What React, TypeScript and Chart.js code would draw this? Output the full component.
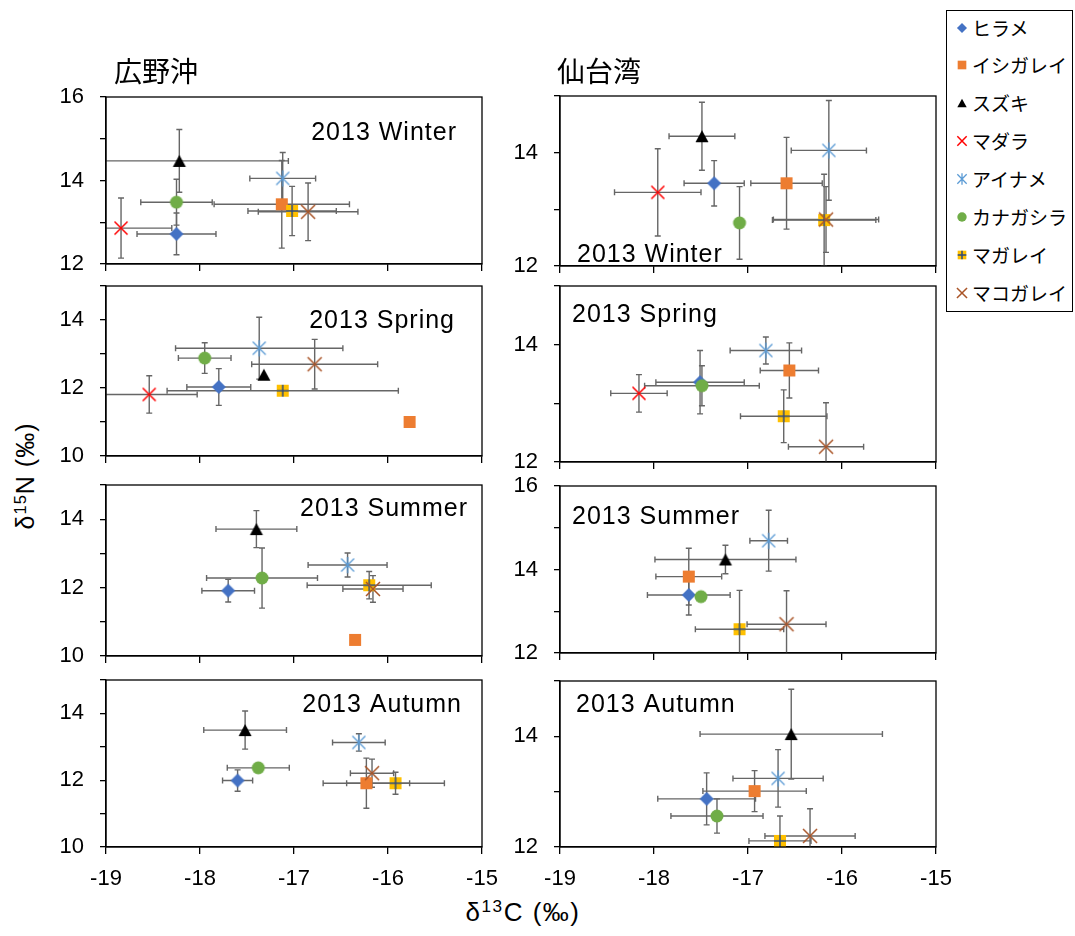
import React, { useEffect, useRef } from 'react';
import { Chart, registerables } from 'chart.js';

Chart.register(...registerables);

// ---------- data ----------
const SPECIES = ['ヒラメ', 'イシガレイ', 'スズキ', 'マダラ', 'アイナメ', 'カナガシラ', 'マガレイ', 'マコガレイ'];
const SITE_TITLES = ['広野沖', '仙台湾'];
const SEASON_LABELS = ['2013 Winter', '2013 Spring', '2013 Summer', '2013 Autumn'];
const X_MIN = -19;
const X_MAX = -15;

// 広野沖 2013 Winter (species order as SPECIES)
const hironoWinterX = [-18.25, -17.13, -18.22, -18.84, -17.12, -18.25, -17.02, -16.85];
const hironoWinterY = [12.72, 13.43, 14.47, 12.86, 14.05, 13.48, 13.27, 13.25];
const hironoWinterXErr = [0.42, 0.72, 1.16, 0.54, 0.35, 0.38, 0.47, 0.53];
const hironoWinterYErr = [0.5, 1.05, 0.75, 0.72, 0.62, 0.55, 0.59, 0.69];

// 仙台湾 2013 Winter
const sendaiWinterX = [-17.36, -16.59, -17.49, -17.96, -16.14, -17.09, -16.19, -16.17];
const sendaiWinterY = [13.46, 13.46, 14.29, 13.3, 14.04, 12.76, 12.81, 12.82];
const sendaiWinterXErr = [0.32, 0.38, 0.35, 0.46, 0.4, 0, 0.55, 0.56];
const sendaiWinterYErr = [0.4, 0.81, 0.6, 0.77, 0.88, 0.64, 0.81, 0.58];

// 広野沖 2013 Spring
const hironoSpringX = [-17.8, -15.77, -17.32, -18.54, -17.37, -17.95, -17.12, -16.78];
const hironoSpringY = [12.03, 11.0, 12.39, 11.81, 13.17, 12.88, 11.92, 12.7];
const hironoSpringXErr = [0.34, 0, 0, 0.51, 0.89, 0.28, 1.23, 0.67];
const hironoSpringYErr = [0.54, 0, 0, 0.55, 0.91, 0.45, 0, 0.73];

// 仙台湾 2013 Spring
const sendaiSpringX = [-17.51, -16.56, null, -18.16, -16.81, -17.49, -16.62, -16.17];
const sendaiSpringY = [13.36, 13.56, null, 13.17, 13.9, 13.3, 12.78, 12.26];
const sendaiSpringXErr = [0.47, 0.31, 0, 0.3, 0.38, 0.61, 0.46, 0.4];
const sendaiSpringYErr = [0.54, 0.47, 0, 0.32, 0.23, 0.34, 0.45, 0.75];

// 広野沖 2013 Summer
const hironoSummerX = [-17.7, -16.35, -17.4, null, -16.43, -17.34, -16.2, -16.16];
const hironoSummerY = [11.91, 10.47, 13.71, null, 12.66, 12.28, 12.07, 11.96];
const hironoSummerXErr = [0.28, 0, 0.43, 0, 0.42, 0.59, 0.66, 0.32];
const hironoSummerYErr = [0.33, 0, 0.54, 0, 0.35, 0.88, 0.4, 0.39];

// 仙台湾 2013 Summer
const sendaiSummerX = [-17.63, -17.63, -17.24, null, -16.78, -17.5, -17.09, -16.59];
const sendaiSummerY = [13.39, 13.83, 14.24, null, 14.69, 13.35, 12.57, 12.69];
const sendaiSummerXErr = [0.44, 0.35, 0.75, 0, 0.2, 0, 0.47, 0.42];
const sendaiSummerYErr = [0.48, 0.68, 0.34, 0, 0.73, 0, 0.93, 0.8];

// 広野沖 2013 Autumn
const hironoAutumnX = [-17.6, -16.23, -17.52, null, -16.31, -17.38, -15.92, -16.17];
const hironoAutumnY = [11.99, 11.91, 13.5, null, 13.13, 12.37, 11.91, 12.21];
const hironoAutumnXErr = [0.16, 0.46, 0.44, 0, 0.28, 0.33, 0.52, 0.23];
const hironoAutumnYErr = [0.32, 0.75, 0.57, 0, 0.26, 0, 0.33, 0.42];

// 仙台湾 2013 Autumn
const sendaiAutumnX = [-17.44, -16.93, -16.54, null, -16.68, -17.33, -16.66, -16.34];
const sendaiAutumnY = [12.87, 13.01, 14.04, null, 13.24, 12.56, 12.11, 12.2];
const sendaiAutumnXErr = [0.52, 0.55, 0.97, 0, 0.48, 0.49, 0.33, 0.48];
const sendaiAutumnYErr = [0.47, 0.37, 0.81, 0, 0.52, 0.31, 0.45, 0.49];

// ---------- styles ----------
const MARKER_COLORS = ['#4472C4', '#ED7D31', '#000000', '#FF0000', '#5B9BD5', '#70AD47', '#FFC000', '#AA5528'];
const PLUS_COLOR = '#2E4A7A';
const ERR_COLOR = '#666666';
const AXIS_COLOR = '#000000';
const FONT = '"Liberation Sans", Arial, sans-serif';
const CJK = '"Noto Sans CJK JP", "Noto Sans", sans-serif';

type PanelCfg = {
  col: number; season: number;
  x: (number | null)[]; y: (number | null)[]; xe: number[]; ye: number[];
  yMin: number; yMax: number; plotTop: number; plotBottom: number;
  labelAlign: 'left' | 'right'; labelDx: number; labelDy: number;
};

const PANELS: PanelCfg[] = [
  { col: 0, season: 0, x: hironoWinterX, y: hironoWinterY, xe: hironoWinterXErr, ye: hironoWinterYErr, yMin: 12, yMax: 16, plotTop: 97, plotBottom: 264, labelAlign: 'right', labelDx: 25, labelDy: 34 },
  { col: 1, season: 0, x: sendaiWinterX, y: sendaiWinterY, xe: sendaiWinterXErr, ye: sendaiWinterYErr, yMin: 12, yMax: 15, plotTop: 96, plotBottom: 266, labelAlign: 'left', labelDx: 17, labelDy: 157 },
  { col: 0, season: 1, x: hironoSpringX, y: hironoSpringY, xe: hironoSpringXErr, ye: hironoSpringYErr, yMin: 10, yMax: 15, plotTop: 286, plotBottom: 456, labelAlign: 'right', labelDx: 27, labelDy: 33 },
  { col: 1, season: 1, x: sendaiSpringX, y: sendaiSpringY, xe: sendaiSpringXErr, ye: sendaiSpringYErr, yMin: 12, yMax: 15, plotTop: 286, plotBottom: 462, labelAlign: 'left', labelDx: 12, labelDy: 27 },
  { col: 0, season: 2, x: hironoSummerX, y: hironoSummerY, xe: hironoSummerXErr, ye: hironoSummerYErr, yMin: 10, yMax: 15, plotTop: 485, plotBottom: 656, labelAlign: 'right', labelDx: 14, labelDy: 22 },
  { col: 1, season: 2, x: sendaiSummerX, y: sendaiSummerY, xe: sendaiSummerXErr, ye: sendaiSummerYErr, yMin: 12, yMax: 16, plotTop: 486, plotBottom: 653, labelAlign: 'left', labelDx: 12, labelDy: 29 },
  { col: 0, season: 3, x: hironoAutumnX, y: hironoAutumnY, xe: hironoAutumnXErr, ye: hironoAutumnYErr, yMin: 10, yMax: 15, plotTop: 680, plotBottom: 847, labelAlign: 'right', labelDx: 20, labelDy: 23 },
  { col: 1, season: 3, x: sendaiAutumnX, y: sendaiAutumnY, xe: sendaiAutumnXErr, ye: sendaiAutumnYErr, yMin: 12, yMax: 15, plotTop: 681, plotBottom: 847, labelAlign: 'left', labelDx: 16, labelDy: 22 },
];

const PLOT_LEFT = [106, 560];
const PLOT_W = 376;
const Y_AXIS_W = 56;
const PAD_TOP = 16;
const PAD_RIGHT = 20;

function drawMarker(ctx: CanvasRenderingContext2D, i: number, cx: number, cy: number, k: number) {
  ctx.save();
  const c = MARKER_COLORS[i];
  ctx.fillStyle = c;
  ctx.strokeStyle = c;
  ctx.beginPath();
  if (i === 0) {
    const r = 7 * k;
    ctx.moveTo(cx, cy - r); ctx.lineTo(cx + r, cy); ctx.lineTo(cx, cy + r); ctx.lineTo(cx - r, cy);
    ctx.closePath(); ctx.fill();
  } else if (i === 1) {
    const s = 12 * k;
    ctx.fillRect(cx - s / 2, cy - s / 2, s, s);
  } else if (i === 2) {
    const w = 13 * k, h = 12 * k;
    ctx.moveTo(cx, cy - h / 2); ctx.lineTo(cx + w / 2, cy + h / 2); ctx.lineTo(cx - w / 2, cy + h / 2);
    ctx.closePath(); ctx.fill();
  } else if (i === 3 || i === 7) {
    const r = (i === 3 ? 6.5 : 7) * k;
    ctx.lineWidth = 1.5;
    ctx.moveTo(cx - r, cy - r); ctx.lineTo(cx + r, cy + r);
    ctx.moveTo(cx + r, cy - r); ctx.lineTo(cx - r, cy + r);
    ctx.stroke();
  } else if (i === 4) {
    const r = 6.5 * k;
    ctx.lineWidth = 1.3;
    ctx.moveTo(cx - r, cy - r); ctx.lineTo(cx + r, cy + r);
    ctx.moveTo(cx + r, cy - r); ctx.lineTo(cx - r, cy + r);
    ctx.moveTo(cx, cy - r * 1.25); ctx.lineTo(cx, cy + r * 1.25);
    ctx.stroke();
  } else if (i === 5) {
    ctx.arc(cx, cy, 6.5 * k, 0, Math.PI * 2);
    ctx.fill();
  } else if (i === 6) {
    const s = 12 * k;
    ctx.fillRect(cx - s / 2, cy - s / 2, s, s);
    ctx.strokeStyle = PLUS_COLOR;
    ctx.lineWidth = 1.5;
    ctx.beginPath();
    ctx.moveTo(cx - s / 2, cy); ctx.lineTo(cx + s / 2, cy);
    ctx.moveTo(cx, cy - s / 2); ctx.lineTo(cx, cy + s / 2);
    ctx.stroke();
  }
  ctx.restore();
}

function makeMarkerCanvas(i: number): HTMLCanvasElement {
  const c = document.createElement('canvas');
  c.width = 20; c.height = 20;
  const ctx = c.getContext('2d')!;
  drawMarker(ctx, i, 10, 10, 1);
  return c;
}

function Panel({ cfg }: { cfg: PanelCfg }) {
  const ref = useRef<HTMLCanvasElement | null>(null);
  const isBottom = cfg.season === 3;
  const xH = isBottom ? 45 : 16;
  const plotH = cfg.plotBottom - cfg.plotTop;
  const W = Y_AXIS_W + PLOT_W + PAD_RIGHT;
  const H = PAD_TOP + plotH + xH;
  const left = PLOT_LEFT[cfg.col] - Y_AXIS_W;
  const top = cfg.plotTop - PAD_TOP;

  useEffect(() => {
    const canvas = ref.current!;
    const images = SPECIES.map((_, i) => makeMarkerCanvas(i));
    const datasets: any[] = SPECIES.map((name, i) => ({
      label: name,
      data: cfg.x[i] == null ? [] : [{ x: cfg.x[i], y: cfg.y[i] }],
      xErr: cfg.xe[i] || 0,
      yErr: cfg.ye[i] || 0,
      pointStyle: images[i],
      pointRadius: 6,
      pointHoverRadius: 6,
      order: -i,
    }));

    const errorBars = {
      id: 'errorBars',
      beforeDatasetsDraw(chart: any) {
        const { ctx, chartArea: a } = chart;
        const xs = chart.scales.x, ys = chart.scales.y;
        ctx.save();
        ctx.beginPath();
        ctx.rect(a.left, a.top, a.right - a.left, a.bottom - a.top);
        ctx.clip();
        ctx.strokeStyle = ERR_COLOR;
        ctx.lineWidth = 1.4;
        const cap = 3;
        chart.data.datasets.forEach((ds: any) => {
          const pt = ds.data[0];
          if (!pt) return;
          const px = xs.getPixelForValue(pt.x);
          const py = ys.getPixelForValue(pt.y);
          ctx.beginPath();
          if (ds.xErr > 0) {
            const l = xs.getPixelForValue(pt.x - ds.xErr);
            const r = xs.getPixelForValue(pt.x + ds.xErr);
            ctx.moveTo(l, py); ctx.lineTo(r, py);
            ctx.moveTo(l, py - cap); ctx.lineTo(l, py + cap);
            ctx.moveTo(r, py - cap); ctx.lineTo(r, py + cap);
          }
          if (ds.yErr > 0) {
            const t = ys.getPixelForValue(pt.y + ds.yErr);
            const b = ys.getPixelForValue(pt.y - ds.yErr);
            ctx.moveTo(px, t); ctx.lineTo(px, b);
            ctx.moveTo(px - cap, t); ctx.lineTo(px + cap, t);
            ctx.moveTo(px - cap, b); ctx.lineTo(px + cap, b);
          }
          ctx.stroke();
        });
        ctx.restore();
      },
    };

    const frame = {
      id: 'frame',
      afterDraw(chart: any) {
        const { ctx, chartArea: a } = chart;
        ctx.save();
        ctx.strokeStyle = AXIS_COLOR;
        ctx.lineWidth = 1.3;
        ctx.strokeRect(a.left, a.top, a.right - a.left, a.bottom - a.top);
        const label = SEASON_LABELS[cfg.season];
        ctx.font = `25px ${FONT}`;
        (ctx as any).letterSpacing = '1px';
        ctx.fillStyle = '#000';
        ctx.textBaseline = 'alphabetic';
        const baseY = a.top + cfg.labelDy + 9;
        if (cfg.labelAlign === 'right') {
          ctx.textAlign = 'right';
          ctx.fillText(label, a.right - cfg.labelDx, baseY);
        } else {
          ctx.textAlign = 'left';
          ctx.fillText(label, a.left + cfg.labelDx, baseY);
        }
        ctx.restore();
      },
    };

    const chart = new Chart(canvas, {
      type: 'scatter',
      data: { datasets },
      options: {
        animation: false,
        responsive: false,
        maintainAspectRatio: false,
        events: [],
        layout: { padding: { top: PAD_TOP, right: PAD_RIGHT, left: 0, bottom: 0 }, autoPadding: false },
        plugins: { legend: { display: false }, tooltip: { enabled: false } },
        scales: {
          x: {
            type: 'linear',
            min: X_MIN,
            max: X_MAX,
            ticks: {
              stepSize: 1,
              color: '#000',
              font: { family: FONT, size: 22 },
              padding: 12,
              maxRotation: 0,
              callback: (v: any) => (isBottom ? String(v) : ''),
            },
            grid: { drawOnChartArea: false, drawTicks: true, tickLength: 7, color: AXIS_COLOR, lineWidth: 1.3 },
            border: { display: true, color: AXIS_COLOR, width: 1.3 },
            afterFit: (s: any) => {
              s.height = xH;
              s.paddingLeft = 0; s.paddingRight = 0; s.paddingTop = 0; s.paddingBottom = 0;
            },
          },
          y: {
            type: 'linear',
            min: cfg.yMin,
            max: cfg.yMax,
            ticks: {
              stepSize: 1,
              color: '#000',
              font: { family: FONT, size: 22 },
              padding: 16,
              callback: (v: any) => (Number(v) % 2 === 0 ? String(v) : ''),
            },
            grid: { drawOnChartArea: false, drawTicks: true, tickLength: 6, color: AXIS_COLOR, lineWidth: 1.3 },
            border: { display: true, color: AXIS_COLOR, width: 1.3 },
            afterFit: (s: any) => {
              s.width = Y_AXIS_W;
              s.paddingLeft = 0; s.paddingRight = 0; s.paddingTop = 0; s.paddingBottom = 0;
            },
          },
        },
      } as any,
      plugins: [errorBars, frame],
    });
    return () => chart.destroy();
  }, [cfg]);

  return (
    <canvas
      ref={ref}
      width={W}
      height={H}
      style={{ position: 'absolute', left, top, width: W, height: H }}
    />
  );
}

function LegendMarker({ index }: { index: number }) {
  const ref = useRef<HTMLCanvasElement | null>(null);
  useEffect(() => {
    const c = ref.current!;
    const ctx = c.getContext('2d')!;
    ctx.clearRect(0, 0, c.width, c.height);
    drawMarker(ctx, index, 8, 8, 0.72);
  }, [index]);
  return <canvas ref={ref} width={16} height={16} style={{ position: 'absolute', left: 7, top: -8, width: 16, height: 16 }} />;
}

// row centres in page coordinates
const LEGEND_ROW_Y = [27.5, 65, 103, 141, 179, 217, 255, 293];
const LEGEND_TOP = 10;

const supStyle: React.CSSProperties = { fontSize: '0.66em', verticalAlign: '0.5em', lineHeight: 0 };

export default function App() {
  return (
    <div
      style={{
        position: 'absolute', left: 0, top: 0, width: 1075, height: 936,
        background: '#fff', overflow: 'hidden', fontFamily: FONT, color: '#000',
      }}
    >
      {PANELS.map((p, i) => <Panel key={i} cfg={p} />)}

      <div style={{ position: 'absolute', left: 114, top: 56, fontFamily: CJK, fontSize: 28, lineHeight: '28px', whiteSpace: 'nowrap' }}>
        {SITE_TITLES[0]}
      </div>
      <div style={{ position: 'absolute', left: 557, top: 56, fontFamily: CJK, fontSize: 28, lineHeight: '28px', whiteSpace: 'nowrap' }}>
        {SITE_TITLES[1]}
      </div>

      <div
        style={{
          position: 'absolute', left: 25, top: 476, transform: 'translate(-50%, -50%) rotate(-90deg)',
          fontSize: 25, lineHeight: '28px', whiteSpace: 'nowrap', letterSpacing: '1px',
        }}
      >
        δ<sup style={supStyle}>15</sup>N (‰)
      </div>
      <div
        style={{
          position: 'absolute', left: 523, top: 912, transform: 'translate(-50%, -50%)',
          fontSize: 26, lineHeight: '30px', whiteSpace: 'nowrap', letterSpacing: '1.5px',
        }}
      >
        δ<sup style={supStyle}>13</sup>C (‰)
      </div>

      <div
        style={{
          position: 'absolute', left: 946, top: LEGEND_TOP, width: 125, height: 300,
          border: '1.3px solid #000', background: '#fff',
        }}
      >
        {SPECIES.map((name, i) => {
          const cy = LEGEND_ROW_Y[i] - LEGEND_TOP - 1;
          return (
            <div key={name} style={{ position: 'absolute', left: 0, top: cy, width: 125, height: 0 }}>
              <LegendMarker index={i} />
              <div
                style={{
                  position: 'absolute', left: 25, top: -11, fontFamily: CJK, fontSize: 19,
                  lineHeight: '22px', whiteSpace: 'nowrap',
                }}
              >
                {name}
              </div>
            </div>
          );
        })}
      </div>
    </div>
  );
}
